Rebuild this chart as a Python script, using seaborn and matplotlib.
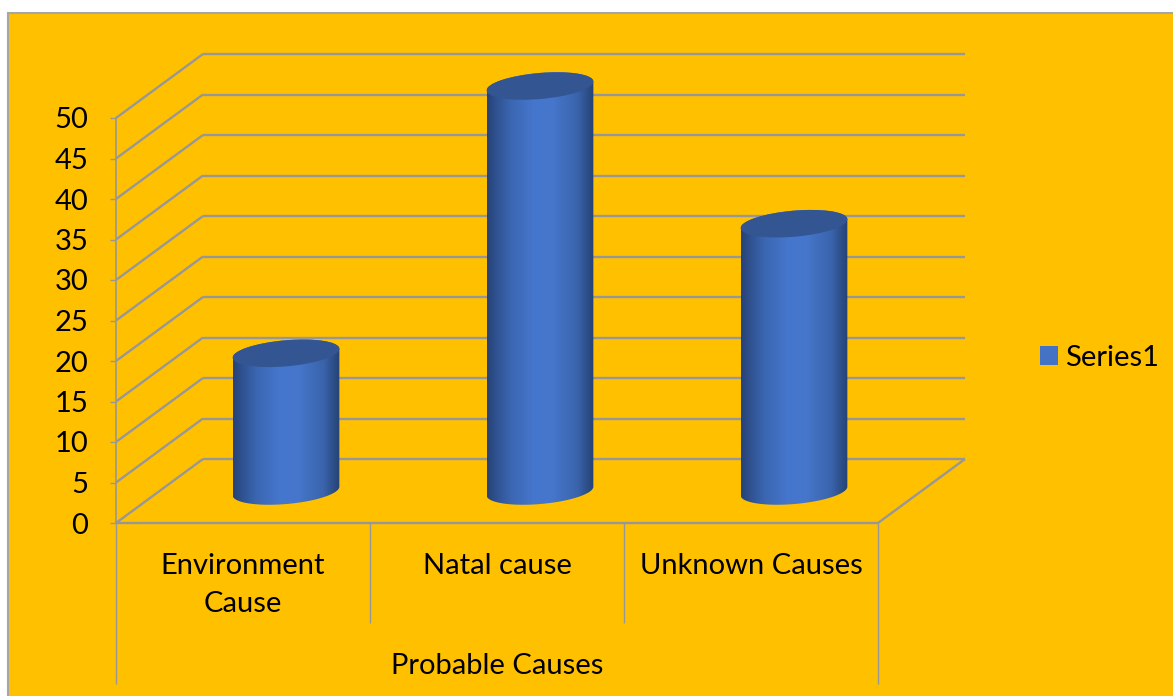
import matplotlib
matplotlib.use("Agg")
import matplotlib.pyplot as plt
import numpy as np
import seaborn as sns
from matplotlib.colors import LinearSegmentedColormap
from matplotlib.patches import Ellipse, Polygon, Rectangle
from matplotlib.transforms import Affine2D, IdentityTransform

causes = ["Environment\nCause", "Natal cause", "Unknown Causes"]
percentages = [17, 50, 33]
y_ticks = [0, 5, 10, 15, 20, 25, 30, 35, 40, 45, 50]
series_name = "Series1"
group_title = "Probable Causes"

PANEL = "#FFC000"
GRID = "#979797"
BLUE = "#4472C4"
TOP_CAP = "#335592"
W, H = 1173, 696
FONT = "Lato"
SIZE = 21

sns.set_theme(style="white")
plt.rcParams["font.family"] = [FONT, "DejaVu Sans"]

fig = plt.figure(figsize=(W / 100, H / 100), dpi=100, facecolor="white")
fig.add_artist(Rectangle((8, -5), W, H - 13 + 5, transform=IdentityTransform(),
                         facecolor=PANEL, edgecolor="#A6A6A6", linewidth=1.5, zorder=-1))

# The axes is the front plane of the 3D box; depth is a fixed pixel shift.
ax = fig.add_axes([116 / W, (H - 523) / H, 762 / W, 405 / H])
ax.patch.set_visible(False)

sns.barplot(x=causes, y=percentages, width=0.42, color=BLUE, saturation=1,
            label=series_name, legend=False, ax=ax, zorder=3)
ax.set_xlim(-0.5, 2.5)
ax.set_ylim(0, 50)

depth_x, depth_y = 87, 64
unit_x = 762 / 3
unit_y = 405 / 50
dx = depth_x / unit_x
dy = depth_y / unit_y
x0, x1 = ax.get_xlim()

# Side wall, back wall and floor
line_style = dict(color=GRID, lw=1.7, clip_on=False, zorder=1, solid_capstyle="butt")
for v in y_ticks:
    ax.plot([x0, x0 + dx], [v, v + dy], **line_style)
    ax.plot([x0 + dx, x1 + dx], [v + dy, v + dy], **line_style)
ax.plot([x0, x1], [0, 0], **line_style)
ax.plot([x1, x1 + dx], [0, dy], **line_style)

for side in ("top", "right", "bottom"):
    ax.spines[side].set_visible(False)
ax.spines["left"].set_color(GRID)
ax.spines["left"].set_linewidth(1.2)

ax.set_yticks(y_ticks)
ax.tick_params(axis="y", left=True, length=4.5, width=1.0, color=GRID, pad=15.5,
               labelsize=SIZE, labelcolor="black")
ax.set_xticks(range(len(causes)))
ax.set_xticklabels(causes, linespacing=1.58)
ax.tick_params(axis="x", bottom=False, pad=15.5, labelsize=SIZE, labelcolor="black")
ax.set_ylabel("")

# Separators below the floor for each category and for the group
below_inner = -100 / unit_y
below_outer = -161 / unit_y
ax.vlines([x0 + 1, x0 + 2], 0, below_inner, color=GRID, lw=1.0, clip_on=False)
ax.vlines([x0, x1], 0, below_outer, color=GRID, lw=1.0, clip_on=False)
ax.text((x0 + x1) / 2, -143 / unit_y, group_title, ha="center", va="center",
        fontsize=SIZE, color="black")

# Cylinders stand half way into the box
mid_shift = Affine2D().translate(depth_x / 2 - 0.5, depth_y / 2)
shading = LinearSegmentedColormap.from_list(
    "cylinder",
    [(0.0, "#264274"), (0.07, "#2E4F8C"), (0.22, "#3B66B2"), (0.45, "#4677CE"),
     (0.62, "#4576CB"), (0.85, "#3A63AB"), (0.95, "#2C4C85"), (1.0, "#264274")],
)
gradient = np.linspace(0, 1, 256).reshape(1, -1)
tilt = np.deg2rad(5)
cap_b = 13


def cap_outline(cx, cy, a, t):
    """Points of a tilted ellipse, in display pixels."""
    px = a * np.cos(t)
    py = cap_b * np.sin(t)
    return np.column_stack([cx + px * np.cos(tilt) - py * np.sin(tilt),
                            cy + px * np.sin(tilt) + py * np.cos(tilt)])


for bar in list(ax.patches):
    bar.set_transform(ax.transData + mid_shift)
    bar.set_visible(False)
    left, width, value = bar.get_x(), bar.get_width(), bar.get_height()
    centre = left + width / 2
    cx, base_y = (ax.transData + mid_shift).transform((centre, 0))
    _, top_y = (ax.transData + mid_shift).transform((centre, value))
    a = width * unit_x / 2 / np.cos(tilt)

    lower = cap_outline(cx, base_y, a, np.linspace(np.pi, 2 * np.pi, 60))
    upper = cap_outline(cx, top_y, a, np.linspace(0, np.pi, 60))
    body = Polygon(np.vstack([lower, upper]), closed=True,
                   transform=IdentityTransform(), facecolor="none", edgecolor="none")
    ax.add_patch(body)
    im = ax.imshow(gradient, cmap=shading, aspect="auto", zorder=3,
                   extent=(left, left + width, -3, value + 3),
                   transform=ax.transData + mid_shift)
    im.set_clip_box(fig.bbox)
    im.set_clip_path(body)
    ax.add_patch(Ellipse((cx, top_y), 2 * a, 2 * cap_b, angle=np.rad2deg(tilt),
                         transform=IdentityTransform(), facecolor=TOP_CAP,
                         edgecolor="none", zorder=4, clip_on=False))

ax.set_xlim(x0, x1)
ax.set_ylim(0, 50)

handle = Rectangle((0, 0), 1, 1, facecolor=BLUE, edgecolor="none")
fig.legend([handle], [series_name], loc="center left", frameon=False,
           bbox_to_anchor=(1014 / W, (H - 358) / H), fontsize=SIZE,
           handlelength=0.62, handleheight=0.62, handletextpad=0.22, borderpad=0.4,
           labelcolor="black")

fig.savefig("out.png", dpi=100, facecolor=fig.get_facecolor())
